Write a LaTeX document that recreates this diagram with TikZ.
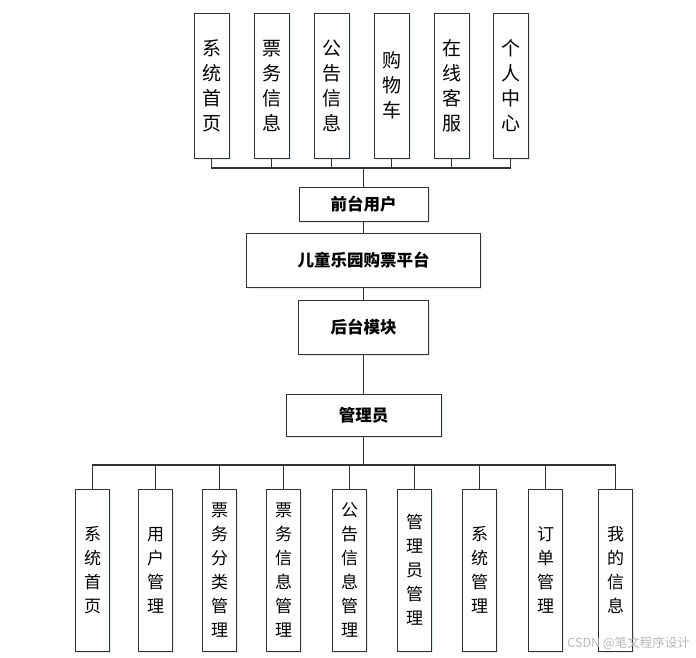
\documentclass[tikz,border=0pt]{standalone}
\usepackage{fontspec}
\newfontfamily\cjk{Noto Sans CJK SC}
\usetikzlibrary{shadows}
\definecolor{ln}{HTML}{333333}
\definecolor{shd}{HTML}{DCE6F2}
\tikzset{
  base/.style={draw=ln, line width=1pt, fill=white, inner sep=0pt,
    drop shadow={fill=shd, opacity=0.8, shadow xshift=1.5pt, shadow yshift=-1.5pt}},
  topbox/.style={base, minimum width=35pt, minimum height=145pt, align=center,
    font=\cjk\fontsize{19}{25}\selectfont},
  botbox/.style={base, minimum width=34pt, minimum height=162pt, align=center,
    font=\cjk\fontsize{17}{24}\selectfont},
  midbox/.style={base, align=center, font=\cjk\bfseries\fontsize{16.5}{18}\selectfont},
  conn/.style={draw=ln, line width=1.1pt}
}
\begin{document}
\begin{tikzpicture}[x=1pt,y=-1pt]
\useasboundingbox (0,0) rectangle (696,657);
% top row
\node[topbox] (t1) at (211.5,85.5) {系\\统\\首\\页};
\node[topbox] (t2) at (271.5,85.5) {票\\务\\信\\息};
\node[topbox] (t3) at (331.5,85.5) {公\\告\\信\\息};
\node[topbox] (t4) at (391.5,85.5) {购\\物\\车};
\node[topbox] (t5) at (451.5,85.5) {在\\线\\客\\服};
\node[topbox] (t6) at (510.5,85.5) {个\\人\\中\\心};
% middle
\node[midbox, minimum width=129pt, minimum height=34pt] (fu) at (363.5,204) {前台用户};
\node[midbox, minimum width=234pt, minimum height=54pt] (pf) at (363.5,260) {儿童乐园购票平台};
\node[midbox, minimum width=130pt, minimum height=54pt] (bm) at (363.5,327) {后台模块};
\node[midbox, minimum width=155pt, minimum height=42pt] (ad) at (363.5,415) {管理员};
% bottom row
\node[botbox] (b1) at (92.5,570) {系\\统\\首\\页};
\node[botbox] (b2) at (155.5,570) {用\\户\\管\\理};
\node[botbox] (b3) at (219.5,570) {票\\务\\分\\类\\管\\理};
\node[botbox] (b4) at (283.5,570) {票\\务\\信\\息\\管\\理};
\node[botbox] (b5) at (349.5,570) {公\\告\\信\\息\\管\\理};
\node[botbox] (b6) at (414.5,570) {管\\理\\员\\管\\理};
\node[botbox] (b7) at (479.5,570) {系\\统\\管\\理};
\node[botbox] (b8) at (545.5,570) {订\\单\\管\\理};
\node[botbox] (b9) at (615.5,570) {我\\的\\信\\息};
% bus coordinates
\coordinate (tb) at (363.5,168);
\coordinate (bb) at (363.5,465);
% connectors
\foreach \n in {t1,t2,t3,t4,t5,t6} \draw[conn] (\n.south) |- (tb);
\draw[conn] (tb) -- (fu.north);
\draw[conn] (fu.south) -- (pf.north);
\draw[conn] (pf.south) -- (bm.north);
\draw[conn] (bm.south) -- (ad.north);
\draw[conn] (ad.south) -- (bb);
\foreach \n in {b1,b2,b3,b4,b5,b6,b7,b8,b9} \draw[conn] (bb) -| (\n.north);
% watermark
\node[font=\cjk\fontsize{12.5}{14}\selectfont, text=black!28, anchor=east, inner sep=0pt] (wm) at (690,643) {CSDN @笔文程序设计};
\end{tikzpicture}
\end{document}
